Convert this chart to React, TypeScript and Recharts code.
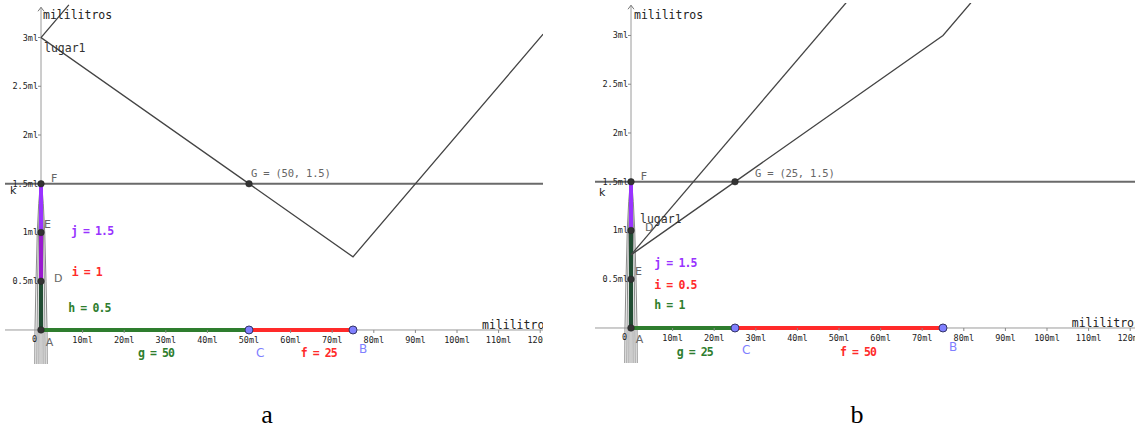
import React from 'react';
import { ComposedChart, Line, XAxis, YAxis, ReferenceLine, ReferenceDot } from 'recharts';

// ---------- shared tick data ----------
const xTickValues = [10, 20, 30, 40, 50, 60, 70, 80, 90, 100, 110, 120];
const xTickLabels = ['10ml', '20ml', '30ml', '40ml', '50ml', '60ml', '70ml', '80ml', '90ml', '100ml', '110ml', '120ml'];
const yTickValues = [0.5, 1, 1.5, 2, 2.5, 3];
const yTickLabels = ['0.5ml', '1ml', '1.5ml', '2ml', '2.5ml', '3ml'];

// ---------- panel a data ----------
const aLocus = [
  { x: 6.7, y: 3.335 },
  { x: 0, y: 3 },
  { x: 75, y: 0.75 },
  { x: 120.7, y: 3.035 },
];
const aSegG = [{ x: 0, y: 0 }, { x: 50, y: 0 }];
const aSegF = [{ x: 50, y: 0 }, { x: 75, y: 0 }];
const aSegH = [{ x: 0, y: 0 }, { x: 0, y: 0.5 }];
const aSegI = [{ x: 0, y: 0.5 }, { x: 0, y: 1 }];
const aSegJ = [{ x: 0, y: 1 }, { x: 0, y: 1.5 }];
const aBlackPoints = [{ x: 0, y: 0 }, { x: 0, y: 0.5 }, { x: 0, y: 1 }, { x: 0, y: 1.5 }, { x: 50, y: 1.5 }];
const aBluePoints = [{ x: 50, y: 0 }, { x: 75, y: 0 }];
const aTexts = ['mililitros', 'lugar1', 'G = (50, 1.5)', 'F', 'k', 'E', 'j = 1.5', 'D', 'i = 1', 'h = 0.5', '0', 'A', 'g = 50', 'C', 'f = 25', 'B', 'mililitros'];
const aTextPos = [
  { x: 0.48, y: 3.231 }, { x: 0.72, y: 2.889 }, { x: 50.48, y: 1.613 }, { x: 2.4, y: 1.549 },
  { x: -7.45, y: 1.429 }, { x: 0.72, y: 1.087 }, { x: 7.21, y: 1.015 }, { x: 3.13, y: 0.533 },
  { x: 7.38, y: 0.598 }, { x: 6.56, y: 0.226 }, { x: -2.16, y: -0.092 }, { x: 1.13, y: -0.13 },
  { x: 23.32, y: -0.236 }, { x: 51.68, y: -0.233 }, { x: 62.43, y: -0.233 }, { x: 76.44, y: -0.195 },
  { x: 106.01, y: 0.051 },
];

// ---------- panel b data ----------
const bLocus1 = [{ x: 0, y: 0.75 }, { x: 51.7, y: 3.335 }];
const bLocus2 = [{ x: 0, y: 0.75 }, { x: 75, y: 3 }, { x: 81.7, y: 3.335 }];
const bSegG = [{ x: 0, y: 0 }, { x: 25, y: 0 }];
const bSegF = [{ x: 25, y: 0 }, { x: 75, y: 0 }];
const bSegH = [{ x: 0, y: 0 }, { x: 0, y: 1 }];
const bSegJ = [{ x: 0, y: 1 }, { x: 0, y: 1.5 }];
const bBlackPoints = [{ x: 0, y: 0 }, { x: 0, y: 0.5 }, { x: 0, y: 1 }, { x: 0, y: 1.5 }, { x: 25, y: 1.5 }];
const bBluePoints = [{ x: 25, y: 0 }, { x: 75, y: 0 }];
const bTexts = ['mililitros', 'F', 'k', 'G = (25, 1.5)', 'lugar1', 'D', 'E', 'j = 1.5', 'i = 0.5', 'h = 1', '0', 'A', 'g = 25', 'C', 'f = 50', 'B', 'mililitros'];
const bTextPos = [
  { x: 0.72, y: 3.21 }, { x: 2.33, y: 1.552 }, { x: -7.69, y: 1.388 }, { x: 29.81, y: 1.587 },
  { x: 2.16, y: 1.115 }, { x: 3.37, y: 1.033 }, { x: 0.96, y: 0.577 }, { x: 5.6, y: 0.67 },
  { x: 5.6, y: 0.441 }, { x: 5.6, y: 0.236 }, { x: -2.16, y: -0.089 }, { x: 1.13, y: -0.123 },
  { x: 10.99, y: -0.243 }, { x: 26.68, y: -0.226 }, { x: 50.24, y: -0.246 }, { x: 76.44, y: -0.192 },
  { x: 105.94, y: 0.048 },
];

// ---------- thin gray lens curves around the y axis (same shape in both panels) ----------
const lensOuter = [
  { x: -1.5, y: -0.4 }, { x: -1.45, y: 0 }, { x: -1.2, y: 0.5 }, { x: -0.9, y: 1 }, { x: -0.55, y: 1.3 },
  { x: -0.25, y: 1.45 }, { x: 0, y: 1.5 }, { x: 0.25, y: 1.45 }, { x: 0.55, y: 1.3 }, { x: 0.9, y: 1 },
  { x: 1.2, y: 0.5 }, { x: 1.45, y: 0 }, { x: 1.5, y: -0.4 },
];
const lensMiddle = [
  { x: -1.0, y: -0.4 }, { x: -0.95, y: 0 }, { x: -0.8, y: 0.5 }, { x: -0.6, y: 1 }, { x: -0.37, y: 1.3 },
  { x: -0.17, y: 1.45 }, { x: 0, y: 1.5 }, { x: 0.17, y: 1.45 }, { x: 0.37, y: 1.3 }, { x: 0.6, y: 1 },
  { x: 0.8, y: 0.5 }, { x: 0.95, y: 0 }, { x: 1.0, y: -0.4 },
];
const lensInner = [
  { x: -0.5, y: -0.4 }, { x: -0.48, y: 0 }, { x: -0.4, y: 0.5 }, { x: -0.3, y: 1 }, { x: -0.18, y: 1.3 },
  { x: -0.08, y: 1.45 }, { x: 0, y: 1.5 }, { x: 0.08, y: 1.45 }, { x: 0.18, y: 1.3 }, { x: 0.3, y: 1 },
  { x: 0.4, y: 0.5 }, { x: 0.48, y: 0 }, { x: 0.5, y: -0.4 },
];

// ---------- styles ----------
const MONO = "'DejaVu Sans Mono', monospace";
const SANS = "'DejaVu Sans', sans-serif";
const PURPLE = '#9933ff';
const MAGENTA = '#9a1acf';
const DKGREEN = '#214d33';
const GREEN = '#2e7d2e';
const RED = '#ff2a2a';
const BLUE = '#8080ff';

type Style = { color: string; font: string; size: number; ls?: number; weight?: number };
const sMil: Style = { color: '#222', font: MONO, size: 11.5 };
const sLug: Style = { color: '#333', font: MONO, size: 11.5 };
const sG: Style = { color: '#666', font: MONO, size: 10.5, ls: -0.2 };
const sLetter: Style = { color: '#666', font: SANS, size: 11 };
const sK: Style = { color: '#222', font: SANS, size: 11 };
const sZero: Style = { color: '#222', font: MONO, size: 8.5 };
const sBlue: Style = { color: BLUE, font: SANS, size: 12 };
const eq = (c: string): Style => ({ color: c, font: MONO, size: 11.5, ls: -0.9, weight: 600 });

const aStyles: Style[] = [sMil, sLug, sG, sLetter, sK, sLetter, eq(PURPLE), sLetter, eq(RED), eq(GREEN), sZero, sLetter, eq(GREEN), sBlue, eq(RED), sBlue, sMil];
const bStyles: Style[] = [sMil, sLetter, sK, sG, sLug, sLetter, sLetter, eq(PURPLE), eq(RED), eq(GREEN), sZero, sLetter, eq(GREEN), sBlue, eq(RED), sBlue, sMil];

type PanelProps = {
  left: number;
  width: number;
  margin: { top: number; right: number; bottom: number; left: number };
  xDomain: [number, number];
  yDomain: [number, number];
  loci: { x: number; y: number }[][];
  segs: { data: { x: number; y: number }[]; color: string; w: number }[];
  black: { x: number; y: number }[];
  blue: { x: number; y: number }[];
  texts: string[];
  pos: { x: number; y: number }[];
  styles: Style[];
};

const HEIGHT = 370;

function Panel(p: PanelProps) {
  const lenses = [lensOuter, lensMiddle, lensInner];
  return (
    <div style={{ position: 'absolute', left: p.left, top: 0 }}>
      <ComposedChart width={p.width} height={HEIGHT} margin={p.margin}>
        <XAxis dataKey="x" type="number" domain={p.xDomain} allowDataOverflow hide />
        <YAxis dataKey="y" type="number" domain={p.yDomain} allowDataOverflow hide />
        {/* axes */}
        <ReferenceLine y={0} stroke="#9a9a9a" strokeWidth={1} ifOverflow="hidden" />
        <ReferenceLine
          segment={[{ x: 0, y: p.yDomain[0] }, { x: 0, y: 3.31 }]}
          stroke="#9a9a9a"
          strokeWidth={1}
          ifOverflow="hidden"
        />
        <ReferenceDot
          x={0}
          y={3.31}
          r={0}
          ifOverflow="visible"
          shape={(d: any) => (
            <path d={`M${d.cx - 3},${d.cy + 4} L${d.cx},${d.cy} L${d.cx + 3},${d.cy + 4}`} stroke="#777" fill="none" strokeWidth={1} />
          )}
        />
        {/* x ticks */}
        {xTickValues.map((v, i) => (
          <ReferenceDot
            key={'xt' + v}
            x={v}
            y={0}
            r={0}
            ifOverflow="hidden"
            shape={(d: any) => (
              <g>
                <line x1={d.cx} x2={d.cx} y1={d.cy} y2={d.cy + 3} stroke="#888" strokeWidth={1} />
                <text x={d.cx} y={d.cy + 10} textAnchor="middle" dominantBaseline="central" fontFamily={MONO} fontSize={8.5} fill="#222">
                  {xTickLabels[i]}
                </text>
              </g>
            )}
          />
        ))}
        {/* y ticks */}
        {yTickValues.map((v, i) => (
          <ReferenceDot
            key={'yt' + v}
            x={0}
            y={v}
            r={0}
            ifOverflow="hidden"
            shape={(d: any) => (
              <g>
                <line x1={d.cx - 3} x2={d.cx} y1={d.cy} y2={d.cy} stroke="#888" strokeWidth={1} />
                <text x={d.cx - 3} y={d.cy} textAnchor="end" dominantBaseline="central" fontFamily={MONO} fontSize={8.5} fill="#222">
                  {yTickLabels[i]}
                </text>
              </g>
            )}
          />
        ))}
        {/* lens curves */}
        {lenses.map((l, i) => (
          <Line key={'lens' + i} data={l} dataKey="y" type="linear" dot={false} stroke="#8a8a8a" strokeWidth={1} isAnimationActive={false} />
        ))}
        {/* colored segments */}
        {p.segs.map((s, i) => (
          <Line key={'seg' + i} data={s.data} dataKey="y" type="linear" dot={false} stroke={s.color} strokeWidth={s.w} isAnimationActive={false} />
        ))}
        {/* k line */}
        <ReferenceLine y={1.5} stroke="#6a6a6a" strokeWidth={1.8} ifOverflow="hidden" />
        {/* loci */}
        {p.loci.map((l, i) => (
          <Line key={'loc' + i} data={l} dataKey="y" type="linear" dot={false} stroke="#444" strokeWidth={1.3} isAnimationActive={false} />
        ))}
        {/* points */}
        {p.black.map((pt, i) => (
          <ReferenceDot key={'bp' + i} x={pt.x} y={pt.y} r={3.3} fill="#333" stroke="#222" strokeWidth={0.5} ifOverflow="visible" />
        ))}
        {p.blue.map((pt, i) => (
          <ReferenceDot key={'bl' + i} x={pt.x} y={pt.y} r={4} fill={BLUE} stroke="#333366" strokeWidth={1} ifOverflow="visible" />
        ))}
        {/* labels */}
        {p.texts.map((t, i) => {
          const st = p.styles[i];
          return (
            <ReferenceDot
              key={'tx' + i}
              x={p.pos[i].x}
              y={p.pos[i].y}
              r={0}
              ifOverflow="hidden"
              shape={(d: any) => (
                <text
                  x={d.cx}
                  y={d.cy}
                  dominantBaseline="central"
                  textAnchor="start"
                  fontFamily={st.font}
                  fontSize={st.size}
                  fontWeight={st.weight ?? 400}
                  letterSpacing={st.ls ?? 0}
                  fill={st.color}
                  style={{ whiteSpace: 'pre' }}
                >
                  {t}
                </text>
              )}
            />
          );
        })}
      </ComposedChart>
    </div>
  );
}

export default function App() {
  return (
    <div style={{ position: 'absolute', left: 0, top: 0, width: 1135, height: 434, background: '#fff', overflow: 'hidden' }}>
      <Panel
        left={0}
        width={543}
        margin={{ top: 3, right: 0, bottom: 6, left: 5 }}
        xDomain={[-8.654, 120.673]}
        yDomain={[-0.349, 3.354]}
        loci={[aLocus]}
        segs={[
          { data: aSegG, color: GREEN, w: 4 },
          { data: aSegF, color: RED, w: 4 },
          { data: aSegH, color: DKGREEN, w: 4 },
          { data: aSegI, color: MAGENTA, w: 4 },
          { data: aSegJ, color: PURPLE, w: 4 },
        ]}
        black={aBlackPoints}
        blue={aBluePoints}
        texts={aTexts}
        pos={aTextPos}
        styles={aStyles}
      />
      <Panel
        left={595}
        width={540}
        margin={{ top: 3, right: 0, bottom: 7, left: 0 }}
        xDomain={[-8.654, 121.154]}
        yDomain={[-0.359, 3.333]}
        loci={[bLocus1, bLocus2]}
        segs={[
          { data: bSegG, color: GREEN, w: 4 },
          { data: bSegF, color: RED, w: 4 },
          { data: bSegH, color: DKGREEN, w: 4 },
          { data: bSegJ, color: PURPLE, w: 4 },
        ]}
        black={bBlackPoints}
        blue={bBluePoints}
        texts={bTexts}
        pos={bTextPos}
        styles={bStyles}
      />
      <div style={{ position: 'absolute', left: 255, top: 398, width: 24, textAlign: 'center', fontFamily: "'Liberation Serif', 'Times New Roman', serif", fontSize: 26, lineHeight: '34px', color: '#000' }}>a</div>
      <div style={{ position: 'absolute', left: 845, top: 398, width: 24, textAlign: 'center', fontFamily: "'Liberation Serif', 'Times New Roman', serif", fontSize: 26, lineHeight: '34px', color: '#000' }}>b</div>
    </div>
  );
}
